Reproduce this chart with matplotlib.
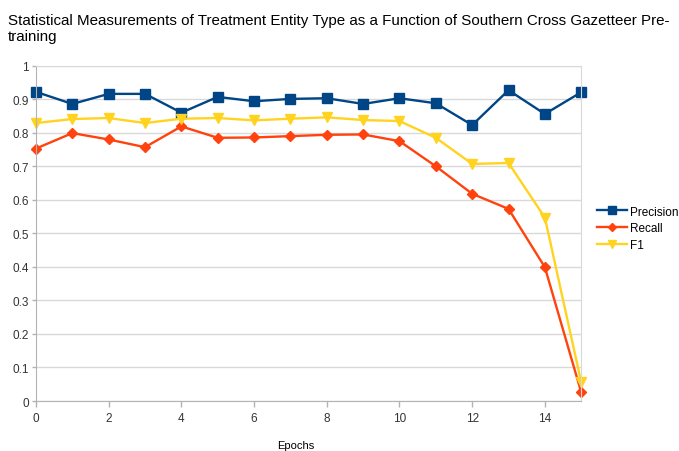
import matplotlib
matplotlib.use('Agg')
import matplotlib.pyplot as plt

plt.rcParams['font.family'] = ['Liberation Sans', 'DejaVu Sans']

epochs = list(range(16))
precision = [0.922, 0.886, 0.916, 0.916, 0.860, 0.907, 0.894, 0.901,
             0.903, 0.886, 0.903, 0.888, 0.823, 0.927, 0.856, 0.921]
recall = [0.753, 0.799, 0.780, 0.757, 0.819, 0.785, 0.786, 0.790,
          0.794, 0.795, 0.775, 0.700, 0.618, 0.573, 0.399, 0.026]
f1 = [0.829, 0.841, 0.844, 0.829, 0.842, 0.844, 0.837, 0.842,
      0.846, 0.838, 0.835, 0.785, 0.707, 0.710, 0.547, 0.056]

title = ('Statistical Measurements of Treatment Entity Type as a Function of '
         'Southern Cross Gazetteer Pre-\ntraining')

fig = plt.figure(figsize=(6.79, 4.52), dpi=100)
ax = fig.add_axes([0.053, 0.1106, 0.803, 0.7418])

ax.plot(epochs, precision, color='#004586', lw=1.7, marker='s', ms=7, label='Precision')
ax.plot(epochs, recall, color='#ff420e', lw=1.7, marker='D', ms=5, label='Recall')
ax.plot(epochs, f1, color='#ffd320', lw=1.7, marker='v', ms=7, label='F1')

ax.set_xlim(0, 15)
ax.set_ylim(0, 1)
ax.set_xticks(range(0, 15, 2))
ax.set_yticks([i / 10 for i in range(11)])
ax.set_yticklabels(['0', '0.1', '0.2', '0.3', '0.4', '0.5', '0.6', '0.7', '0.8', '0.9', '1'])
ax.yaxis.grid(True, color='#d9d9d9', lw=1)
ax.set_axisbelow(True)
for s in ax.spines.values():
    s.set_color('#d9d9d9')
ax.spines['bottom'].set_color('#b3b3b3')
ax.spines['left'].set_color('#b3b3b3')
ax.tick_params(axis='both', labelsize=8.5, colors='#333333', length=4, width=1)
ax.tick_params(axis='both', color='#b3b3b3')
ax.tick_params(axis='x', pad=4)
ax.tick_params(axis='y', length=3, pad=2)

ax.set_xlabel('Epochs', fontsize=8)
ax.xaxis.set_label_coords(0.477, -0.115)
for ln in ax.lines:
    ln.set_clip_on(False)

fig.text(0.012, 0.968, title, fontsize=10.9, va='top', ha='left', linespacing=1.1)

ax.legend(loc='center left', bbox_to_anchor=(1.01, 0.515), frameon=False,
          fontsize=8.5, handlelength=2.5, handletextpad=0.3, labelspacing=0.4,
          markerscale=0.8)

fig.savefig('out.png', dpi=100)
